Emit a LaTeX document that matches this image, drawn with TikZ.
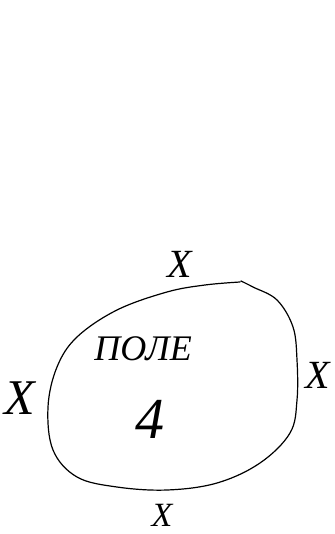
\documentclass[tikz,border=0pt]{standalone}
\usepackage{fontspec}
\setmainfont{Liberation Serif}
\begin{document}
\begin{tikzpicture}[x=1pt,y=-1pt,
  xsign/.style={font=\fontsize{40}{40}\selectfont\itshape, inner sep=0pt},
  lbl/.style={font=\fontsize{36}{36}\selectfont\itshape, inner sep=0pt},
  num/.style={font=\fontsize{58}{58}\selectfont\itshape, inner sep=0pt},
  blob/.style={draw=black, line width=1.2pt, line join=round, line cap=round}]
\useasboundingbox (0,0) rectangle (334,534);
\draw[blob] plot[smooth, tension=0.6] coordinates {
  (240,282) (205,285) (167,292) (117,310) (77,337) (57,367) (48,407)
  (53,450) (77,477) (117,487) (167,490) (217,483) (260,463) (290,433)
  (297,400) (297,360) (293,327) (277,300) (253,287) (241,281)};
\node[xsign] (xt) at (180,264) {X};
\node[xsign, font=\fontsize{50}{50}\selectfont\itshape] (xl) at (20,398) {X};
\node[xsign] (xr) at (318,375) {X};
\node[xsign, font=\fontsize{34}{34}\selectfont\itshape] (xb) at (162,515) {X};
\node[lbl] (field) at (143,349) {ПОЛЕ};
\node[num] (four) at (150,419) {4};
\end{tikzpicture}
\end{document}
